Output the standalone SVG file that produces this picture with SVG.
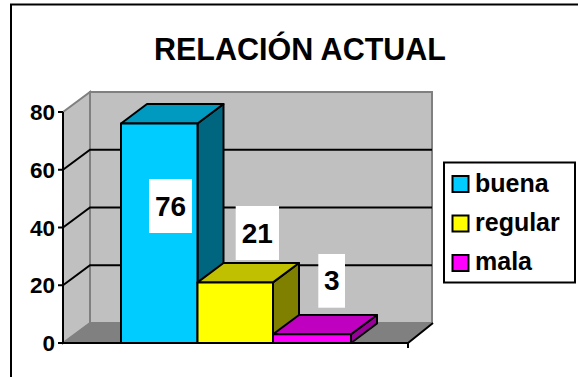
<svg xmlns="http://www.w3.org/2000/svg" width="578" height="377" viewBox="0 0 578 377">
<style>
text{font-family:"Liberation Sans",Arial,sans-serif;font-weight:bold;fill:#000}
.ax{font-size:22.5px;text-anchor:end}
.lbl{font-size:28px;text-anchor:middle}
.leg{font-size:25px}
.grid{stroke:#000;stroke-width:2;fill:none}
.wall{fill:#c0c0c0;stroke:#808080;stroke-width:2}
.edge{stroke:#000;stroke-width:2;stroke-linejoin:round}
.box{fill:#fff}
</style>
<rect x="0" y="0" width="578" height="377" fill="#fff"/>
<rect x="11" y="4.5" width="620" height="420" fill="#fff" stroke="#000" stroke-width="2"/>
<g id="title"><text x="300" y="60" style="font-size:30.5px" text-anchor="middle">RELACIÓN ACTUAL</text></g>
<g id="plot-area">
<polygon class="wall" points="63,112 90,92 90,323 63,343"/>
<rect class="wall" x="90" y="92" width="342" height="231"/>
<polygon points="63,343 90,323 433,323 408,343" fill="#808080" stroke="#808080" stroke-width="1"/>
<g id="gridlines" class="grid">
<polyline points="63,285.25 90,265.25 432,265.25"/>
<polyline points="63,227.5 90,207.5 432,207.5"/>
<polyline points="63,169.75 90,149.75 432,149.75"/>
</g>
<g id="axis" class="grid">
<line x1="63" y1="112" x2="63" y2="343"/>
<line x1="58" y1="343" x2="63" y2="343"/>
<line x1="58" y1="285.25" x2="63" y2="285.25"/>
<line x1="58" y1="227.5" x2="63" y2="227.5"/>
<line x1="58" y1="169.75" x2="63" y2="169.75"/>
<line x1="58" y1="112" x2="63" y2="112"/>
<polyline points="63,343 408,343 433,323"/>
<line x1="408" y1="343" x2="408" y2="348"/>
</g>
<g id="axis-labels">
<text class="ax" x="55" y="351">0</text>
<text class="ax" x="55" y="293.25">20</text>
<text class="ax" x="55" y="235.5">40</text>
<text class="ax" x="55" y="177.75">60</text>
<text class="ax" x="55" y="120">80</text>
</g>
</g>
<g id="bar-buena" class="edge">
<polygon points="197.5,123.5 223.5,104 223.5,323.5 197.5,343" fill="#006680"/>
<polygon points="121,123.5 147,104 223.5,104 197.5,123.5" fill="#0099bf"/>
<rect x="121" y="123.5" width="76.5" height="219.5" fill="#00ccff"/>
</g>
<g id="bar-regular" class="edge">
<polygon points="273,282.4 299,263 299,323.5 273,343" fill="#808000"/>
<polygon points="197.5,282.4 223.5,263 299,263 273,282.4" fill="#c0c000"/>
<rect x="197.5" y="282.4" width="75.5" height="60.6" fill="#ffff00"/>
</g>
<g id="bar-mala" class="edge">
<polygon points="351,334.3 377,315 377,323.5 351,343" fill="#990099"/>
<polygon points="273,334.3 299,315 377,315 351,334.3" fill="#c000c0"/>
<rect x="273" y="334.3" width="78" height="8.7" fill="#ff00ff"/>
</g>
<g id="data-labels">
<rect class="box" x="149" y="179" width="43" height="54"/>
<text class="lbl" x="170.5" y="215.5">76</text>
<rect class="box" x="235.7" y="206" width="43.3" height="54"/>
<text class="lbl" x="257.3" y="242.5">21</text>
<rect class="box" x="318.3" y="254" width="26.7" height="53.7"/>
<text class="lbl" x="331.7" y="289.5">3</text>
</g>
<g id="legend">
<rect x="444" y="162.5" width="131" height="120" fill="#fff" stroke="#000" stroke-width="2"/>
<rect x="452.5" y="176" width="16" height="16" fill="#00ccff" stroke="#000" stroke-width="2"/>
<text class="leg" x="475" y="192">buena</text>
<rect x="452.5" y="215.5" width="16" height="16" fill="#ffff00" stroke="#000" stroke-width="2"/>
<text class="leg" x="475" y="231">regular</text>
<rect x="452.5" y="255" width="16" height="16" fill="#ff00ff" stroke="#000" stroke-width="2"/>
<text class="leg" x="475" y="270">mala</text>
</g>
</svg>
